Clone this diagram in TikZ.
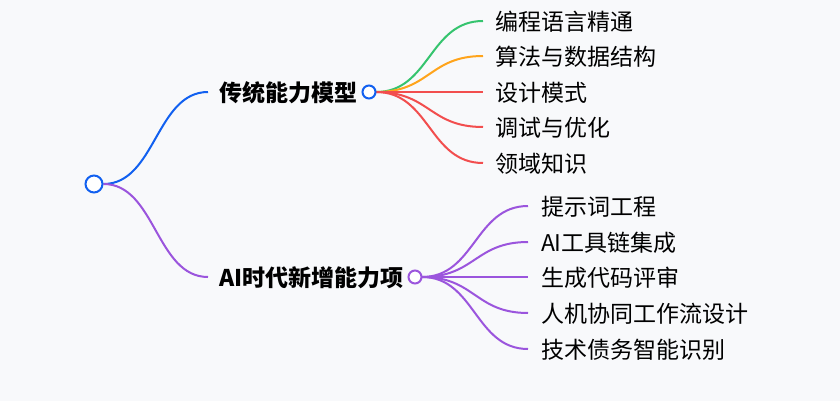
\documentclass[tikz,border=0pt]{standalone}
\usepackage{fontspec}
\newfontfamily\cjk{Noto Sans CJK SC}
\usetikzlibrary{positioning}
\definecolor{bgc}{HTML}{F8F9FB}
\definecolor{rootblue}{HTML}{1160F0}
\definecolor{aipurple}{HTML}{9B55DD}
\definecolor{brgreen}{HTML}{35C46E}
\definecolor{brorange}{HTML}{FFA41B}
\definecolor{brred}{HTML}{F24E4E}

\begin{document}
\begin{tikzpicture}[x=1pt, y=-1pt, line width=2pt,
    dot/.style={circle, draw, fill=white, line width=2pt, inner sep=0pt},
    topic/.style={anchor=west, inner sep=0pt, font=\cjk\bfseries\fontsize{23}{26}\selectfont},
    leaf/.style={anchor=west, inner sep=0pt, font=\cjk\fontsize{23}{26}\selectfont}]

    % ================= background =================
    \fill[bgc] (0,0) rectangle (840,401);
    \useasboundingbox (0,0) rectangle (840,401);

    % ================= root and the two topics =================
    \node[dot, draw=rootblue, minimum size=17pt] (root) at (94,184) {};

    \coordinate (tradIn) at (208,92);
    \node[topic] (trad) at (218,93) {传统能力模型};
    \coordinate (aiIn) at (208,277);
    \node[topic] (ai) at (218,278) {AI时代新增能力项};

    \draw[rootblue] (root.east) .. controls +(52,0) and +(-52,0) .. (tradIn);
    \draw[aipurple] (root.east) .. controls +(52,0) and +(-52,0) .. (aiIn);

    % ================= 传统能力模型 leaves =================
    \coordinate (t1) at (483,21);
    \coordinate (t2) at (483,56);
    \coordinate (t3) at (483,92);
    \coordinate (t4) at (483,127);
    \coordinate (t5) at (483,163);
    \node[leaf] (t1txt) at (494,22)  {编程语言精通};
    \node[leaf] (t2txt) at (494,57)  {算法与数据结构};
    \node[leaf] (t3txt) at (494,93)  {设计模式};
    \node[leaf] (t4txt) at (494,128) {调试与优化};
    \node[leaf] (t5txt) at (494,164) {领域知识};

    \coordinate (tradOut) at (376,92);
    \draw[brgreen]  (tradOut) .. controls +(54,0) and +(-54,0) .. (t1);
    \draw[brorange] (tradOut) .. controls +(54,0) and +(-54,0) .. (t2);
    \draw[brred]    (tradOut) -- (t3);
    \draw[brred]    (tradOut) .. controls +(54,0) and +(-54,0) .. (t4);
    \draw[brred]    (tradOut) .. controls +(54,0) and +(-54,0) .. (t5);
    \node[dot, draw=rootblue, minimum size=13pt] (tradDot) at (369,92) {};

    % ================= AI时代新增能力项 leaves =================
    \coordinate (a1) at (528,206);
    \coordinate (a2) at (528,242);
    \coordinate (a3) at (528,277);
    \coordinate (a4) at (528,313);
    \coordinate (a5) at (528,349);
    \node[leaf] (a1txt) at (540,207) {提示词工程};
    \node[leaf] (a2txt) at (540,243) {AI工具链集成};
    \node[leaf] (a3txt) at (540,278) {生成代码评审};
    \node[leaf] (a4txt) at (540,314) {人机协同工作流设计};
    \node[leaf] (a5txt) at (540,350) {技术债务智能识别};

    \coordinate (aiOut) at (422,277);
    \draw[aipurple] (aiOut) .. controls +(53,0) and +(-53,0) .. (a1);
    \draw[aipurple] (aiOut) .. controls +(53,0) and +(-53,0) .. (a2);
    \draw[aipurple] (aiOut) -- (a3);
    \draw[aipurple] (aiOut) .. controls +(53,0) and +(-53,0) .. (a4);
    \draw[aipurple] (aiOut) .. controls +(53,0) and +(-53,0) .. (a5);
    \node[dot, draw=aipurple, minimum size=13pt] (aiDot) at (415,277) {};

\end{tikzpicture}
\end{document}
